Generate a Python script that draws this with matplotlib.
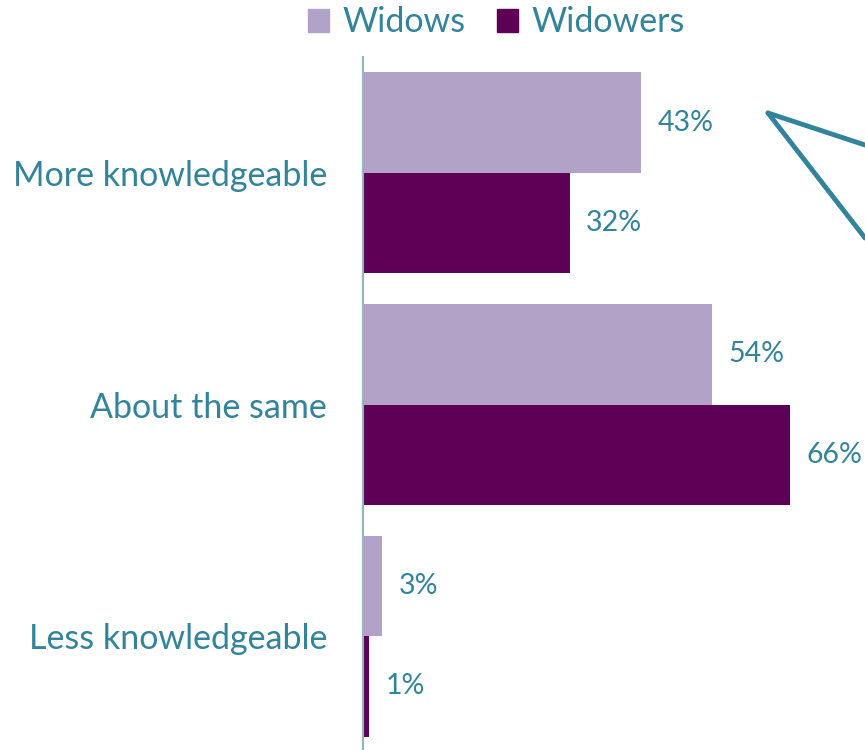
import numpy as np
import matplotlib.pyplot as plt
from matplotlib.patches import Patch
from matplotlib.lines import Line2D

# Datos de la encuesta
categorias = ["More knowledgeable", "About the same", "Less knowledgeable"]
series = ["Widows", "Widowers"]
widows = [43, 54, 3]
widowers = [32, 66, 1]

# Colores
c_widows = "#B3A2C7"
c_widowers = "#5F0057"
c_texto = "#31849B"
c_eje = "#93B3BD"

plt.rcParams['font.family'] = ['Lato', 'DejaVu Sans']

fig = plt.figure(figsize=(8.65, 7.5), dpi=100)
ax = fig.add_axes([363/865, -2/750, 1 - 363/865, (750 - 57 + 2)/750])

y = np.arange(len(categorias))
h = 101/232.5

b1 = ax.barh(y - h/2, widows, height=h, color=c_widows)
b2 = ax.barh(y + h/2, widowers, height=h, color=c_widowers)

# Etiquetas de valor al final de cada barra
for barras, vals in [(b1, widows), (b2, widowers)]:
    for barra, v in zip(barras, vals):
        ax.annotate(f"{v}%", (barra.get_width(), barra.get_y() + barra.get_height()/2),
                    xytext=(16, 0), textcoords="offset pixels",
                    ha="left", va="center", fontsize=20.5, color=c_texto)

ax.set_xlim(0, 502/6.47)
ax.set_ylim(2.5, -0.5)
ax.set_yticks(y)
ax.set_yticklabels(categorias, fontsize=24.5, color=c_texto)
ax.tick_params(axis="y", length=0, pad=26)
ax.set_xticks([])
for lado in ["top", "right", "bottom"]:
    ax.spines[lado].set_visible(False)
ax.spines["left"].set_color(c_eje)
ax.spines["left"].set_linewidth(1.5)
ax.patch.set_alpha(0)

# Leyenda
handles = [Patch(color=c_widows), Patch(color=c_widowers)]
fig.legend(handles, series, loc="center", bbox_to_anchor=(0.574, 0.970), ncol=2,
           frameon=False, fontsize=24.5, labelcolor=c_texto, handlelength=0.62,
           handleheight=0.62, handletextpad=0.4, columnspacing=0.9)

# Globo de texto (recortado a la derecha)
px = lambda x, yy: (x/865, 1 - yy/750)
for p2 in [(865, 145), (865, 238)]:
    (x0, y0), (x1, y1) = px(768, 113), px(*p2)
    fig.add_artist(Line2D([x0, x1], [y0, y1], transform=fig.transFigure,
                          color=c_texto, linewidth=3.5, solid_capstyle="round"))

fig.savefig("out.png", dpi=100)
